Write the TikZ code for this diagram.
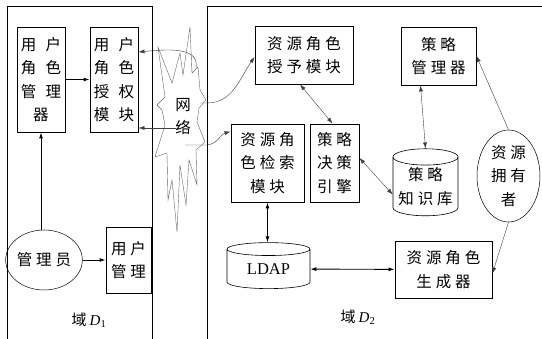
\documentclass[tikz,border=0pt]{standalone}
\usepackage{fontspec}
\setmainfont{Liberation Serif}
\newfontfamily\cjk[LetterSpace=25]{Noto Sans CJK SC}
\newfontfamily\cjkwide[LetterSpace=60]{Noto Sans CJK SC}
\usetikzlibrary{arrows.meta,shapes.geometric,positioning}

\tikzset{
  box/.style={draw, line width=0.9pt, inner sep=0pt, align=center,
    font=\cjk\fontsize{15.5pt}{23.5pt}\selectfont},
  widebox/.style={box, font=\cjkwide\fontsize{15.5pt}{23.5pt}\selectfont},
  oval/.style={box, ellipse, line width=0.5pt},
  store/.style={box, cylinder, shape border rotate=90, aspect=0.3, line width=0.6pt},
  domainline/.style={line width=0.9pt},
  link/.style={line width=0.9pt},
  thinlink/.style={line width=0.4pt, draw=black!75},
  netcloud/.style={line width=0.4pt, draw=black!60},
}

\begin{document}
\begin{tikzpicture}[x=1pt, y=1pt, >={Latex[length=6pt,width=4pt]}]
 \useasboundingbox (0,0) rectangle (542,-339);
 % domains
 \draw[domainline] (7,-339) -- (7,-6) -- (152,-6) -- (152,-339);
 \draw[domainline] (207,-339) -- (207,-6) -- (542,-6);

 % domain D1
 \node[widebox, minimum width=48pt, minimum height=105pt] (umgr) at (41,-79.5) {用户\\角色\\管理\\器};
 \node[widebox, minimum width=48pt, minimum height=105pt] (uauth) at (114,-79.5) {用户\\角色\\授权\\模块};
 \node[oval, minimum width=66pt, minimum height=60pt] (admin) at (44,-260) {管理员};
 \node[box, minimum width=45pt, minimum height=66pt] (umanage) at (128.5,-260) {用户\\管理};
 \node[font=\cjk\fontsize{15pt}{18pt}\selectfont] (d1) at (89,-320) {域\hspace{3pt}{\rmfamily\itshape D}\textsubscript{\rmfamily 1}};

 % network
 \draw[netcloud] (158,-47) -- (172,-83) -- (180,-53) -- (183,-75) -- (190,-27) -- (192,-73)
   -- (198,-67) -- (200,-90) -- (206,-100) -- (199,-108) -- (197,-122) -- (205,-142)
   -- (196,-150) -- (197,-185) -- (189,-160) -- (186,-205) -- (180,-165) -- (177,-232)
   -- (172,-180) -- (168,-200) -- (167,-153) -- (155,-157) -- (165,-125) -- (162,-110)
   -- (157,-105) -- (165,-97) -- cycle;
 \node[font=\cjk\fontsize{15.5pt}{23pt}\selectfont, align=center] (net) at (183,-116.5) {网\\络};
 \coordinate (netA) at (196,-68);
 \coordinate (netB) at (176,-128);
 \coordinate (netC) at (200,-103);
 \coordinate (netD) at (185,-145);

 % domain D2
 \node[box, minimum width=98pt, minimum height=58pt] (grant) at (304,-55) {资源角色\\授予模块};
 \node[box, minimum width=73pt, minimum height=78pt] (search) at (267.5,-163) {资源角\\色检索\\模块};
 \node[box, minimum width=49pt, minimum height=78pt] (engine) at (334.5,-163) {策略\\决策\\引擎};
 \node[box, minimum width=75pt, minimum height=58pt] (pmgr) at (438.5,-56) {策略\\管理器};
 \node[store, minimum width=65pt, minimum height=67pt] (kb) at (425.5,-186.5) {策略\\知识库};
 \node[oval, minimum width=63pt, minimum height=92pt] (owner) at (508.5,-176) {资源\\拥有\\者};
 \node[box, minimum width=97pt, minimum height=57pt] (gen) at (443.5,-269.5) {资源角色\\生成器};
 \node[store, minimum width=83pt, minimum height=46pt, font=\rmfamily\fontsize{16.5pt}{18pt}\selectfont] (ldap) at (268.5,-269) {LDAP};
 \node[font=\cjk\fontsize{15pt}{18pt}\selectfont] (d2) at (358,-317) {域\hspace{3pt}{\rmfamily\itshape D}\textsubscript{\rmfamily 2}};

 % connectors
 \draw[link,->] (umgr) -- (uauth);
 \draw[link,<-] (umgr.south) -- (umgr.south |- admin.north);
 \draw[link,->] (admin) -- (umanage);
 \draw[thinlink,->] (netA) to[out=80,in=5] ([yshift=27.5pt]uauth.east);
 \draw[thinlink,->] (netB) -- (netB -| uauth.east);
 \draw[thinlink,->] (netC) -- ++(7,0) to[out=0,in=235] ([yshift=-2pt]grant.west);
 \draw[thinlink,->] (netD) -- ++(22,0) to[out=5,in=195] ([yshift=-8pt]search.north west);
 \draw[thinlink,<->] ([xshift=-4pt]grant.south) -- ([xshift=-2pt]engine.north);
 \draw[thinlink,<->] ([xshift=-18pt]pmgr.south) -- (kb.north);
 \draw[thinlink,<->] ([yshift=5pt]engine.east) -- ([yshift=-8pt]kb.west);
 \draw[thinlink,->] (owner.north) -- (pmgr.east);
 \draw[thinlink,->] (owner.south) -- ([yshift=-4pt]gen.east);
 \draw[link,<->] (search.south) -- (search.south |- ldap.north);
 \draw[link,<->] (ldap) -- (gen);
\end{tikzpicture}
\end{document}
